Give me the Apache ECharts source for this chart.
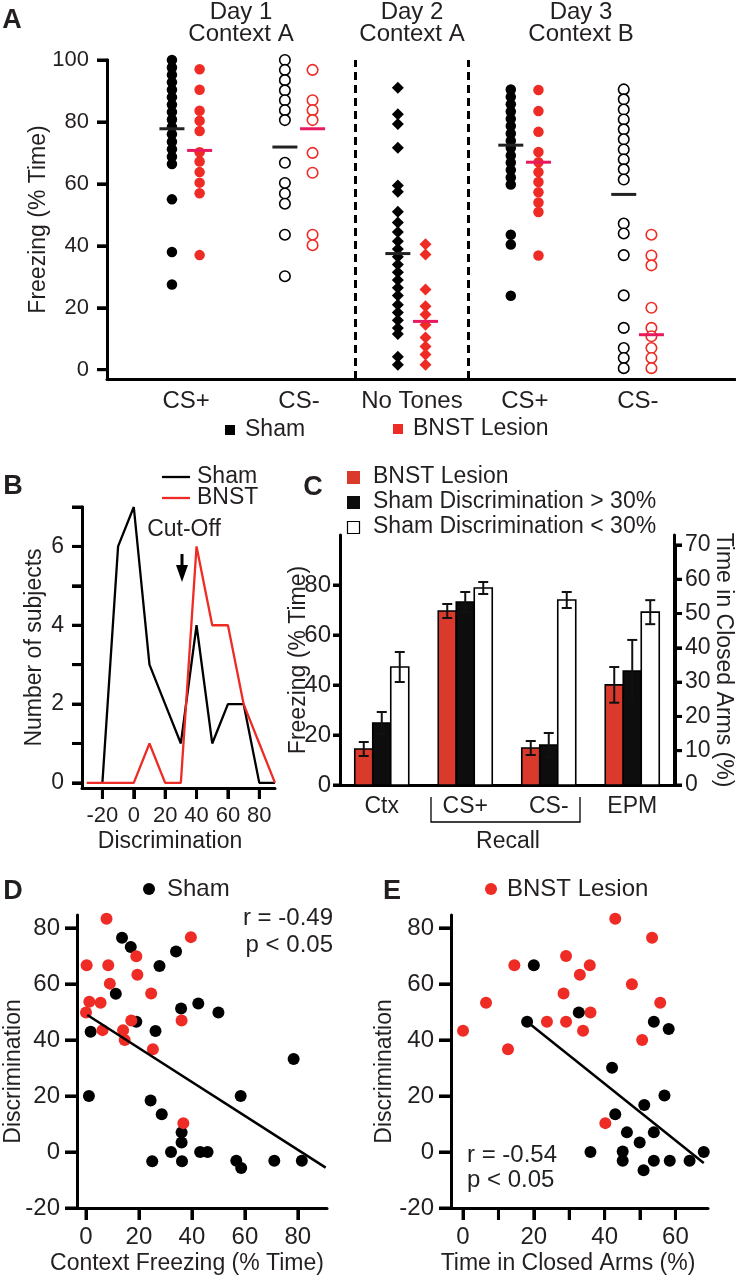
<!DOCTYPE html>
<html>
<head>
<meta charset="utf-8">
<script src="https://cdn.jsdelivr.net/npm/echarts@6/dist/echarts.min.js"></script>
<style>
html, body { margin: 0; padding: 0; background: #fff; }
#panel { width: 736px; height: 1280px; background: #fff; }
</style>
</head>
<body>
<div id="panel"></div>
<script>
var FONT = '"Liberation Sans", Arial, Helvetica, sans-serif';
var INK = '#231f20';
var RED = '#ee2b24';
var PINK = '#e8195c';
var BAR_RED = '#d93a2c';

// ---- A: freezing of each subject (% time)
var aGroups = ['CS+', 'CS-', 'No Tones', 'CS+', 'CS-'];
var aD1CSpSham = [100, 97.6, 95.2, 92.8, 90.4, 88, 85.6, 83.2, 80.8, 78.4, 76, 73.6, 71.2, 68.8, 66.4, 55, 38, 27.5];
var aD1CSpLesion = [97, 90.4, 83.6, 80.4, 77.1, 70.2, 67.2, 63.8, 60.4, 57, 37];
var aD1CSmSham = [100, 96.8, 93.5, 90.2, 87, 83.8, 80.6, 66.8, 60.3, 56.9, 53.6, 43.6, 30.2];
var aD1CSmLesion = [96.8, 87, 83.8, 80.6, 70, 63.6, 43.6, 40.2];
var aD2Sham = [91, 82.5, 79.3, 71.7, 59.5, 57.5, 51, 47.5, 44.5, 41.5, 39, 36.5, 34, 31.5, 29, 26.5, 24, 21, 18.5, 16, 13.5, 11.5, 4.2, 1.6];
var aD2Lesion = [40.5, 37.2, 25.9, 20.5, 17.8, 14.5, 10.4, 7.5, 4.9, 1.6];
var aD3CSpSham = [90.5, 88.1, 85.7, 83.4, 81, 78.7, 76.3, 73.9, 71.6, 69.2, 66.9, 64.5, 62.1, 59.8, 43.6, 40.4, 23.9];
var aD3CSpLesion = [90.3, 83.5, 76.8, 70.3, 67, 63.8, 60.6, 57.3, 54, 50.9, 36.9];
var aD3CSmSham = [90.5, 87.3, 84, 80.8, 77.6, 74.4, 71.1, 67.9, 64.7, 61.4, 47.2, 44, 37, 24, 13.5, 7, 3.8, 0.5];
var aD3CSmLesion = [43.6, 36.9, 33.7, 20, 13.5, 10.8, 7, 3.8, 0.5];
var aShamMeans = [77.8, 71.9, 37.5, 72.5, 56.6];
var aLesionMeans = [70.8, 77.8, 15.6, 67, 11.3];
var aShapes = ['dot', 'ring', 'diamond', 'dot', 'ring'];
var aYTicks = [0, 20, 40, 60, 80, 100];

// ---- B: distribution of discrimination scores
var bBins = [-30, -20, -10, 0, 10, 20, 30, 40, 50, 60, 70, 80, 90];
var bSham = ['-', 0, 6, 7, 3, 2, 1, 4, 1, 2, 2, 0, 0];
var bBnst = [0, 0, 0, 0, 1, 0, 0, 6, 4, 4, 2, 1, 0];
var bXTicks = [-20, 0, 20, 40, 60, 80];
var bYTicks = [0, 1, 2, 3, 4, 5, 6, 7];

// ---- C: group means +/- sem
var cGroups = ['Ctx', 'CS+', 'CS-', 'EPM'];
var cLesion = [14.4, 69.6, 14.8];
var cLesionErr = [2.8, 2.8, 2.8];
var cShamHigh = [24.8, 73.2, 16];
var cShamHighErr = [4.4, 4, 4.8];
var cShamLow = [47.2, 78.8, 74];
var cShamLowErr = [6, 2.4, 3.2];
var cEpm = [29.2, 33.2, 50.4];      // lesion, sham >30%, sham <30% (right axis)
var cEpmErr = [5.2, 9.1, 3.5];
var cLeftTicks = [0, 20, 40, 60, 80];
var cRightTicks = [0, 10, 20, 30, 40, 50, 60, 70];

// ---- D: discrimination vs context freezing
var dShamX = [13.6, 16.9, 34, 27.75, 11.25, 42.4, 35.9, 50, 19, 1.75, 26.25, 78.4, 1.1, 58.4, 24.4, 28.6, 36.1, 36.1, 32.1, 43.1, 45.9, 25, 36.25, 56.75, 58.6, 71.1, 81.5];
var dShamY = [76.5, 73.2, 71.6, 66.4, 56.5, 53, 51.2, 49.8, 46.5, 42.9, 43.2, 33.2, 20, 20, 18.4, 13.5, 7, 3.4, 0, 0, 0, -3.3, -3.3, -3.1, -5.7, -3.1, -3.1];
var dLesionX = [7.75, 39.6, 0.25, 8.4, 19, 19.4, 9, 24.6, 1.25, 5.5, 0, 17.1, 36.1, 6.25, 14, 14.6, 25.25, 36.75];
var dLesionY = [83.3, 76.7, 66.7, 66.7, 69.9, 63.3, 60.1, 56.6, 53.6, 53.3, 49.8, 46.9, 46.9, 43.5, 43.5, 40, 36.7, 10.3];
var dFitX = [0.5, 90.5];
var dFitY = [48.9, -5.6];
var dXTicks = [0, 20, 40, 60, 80];
var dYTicks = [-20, 0, 20, 40, 60, 80];

// ---- E: discrimination vs time in closed arms
var eLesionX = [43, 53.4, 29.1, 14.5, 35.8, 33, 47.7, 28.4, 6.5, 55.7, 36, 23.7, 29.1, 0, 33.9, 12.7, 50.6, 40.2];
var eLesionY = [83.3, 76.5, 70, 66.7, 66.7, 63.3, 59.9, 56.6, 53.3, 53.3, 49.8, 46.5, 46.5, 43.3, 43.3, 36.7, 40, 10.3];
var eShamX = [20, 32.7, 18.1, 53.9, 58.1, 42.1, 56.9, 51.2, 43, 46.3, 53.9, 49.9, 36, 45.1, 68, 45.1, 53.9, 58.4, 64, 51];
var eShamY = [66.7, 49.8, 46.5, 46.5, 43.9, 30.1, 20.2, 16.8, 13.5, 7, 7, 3.4, 0, 0.2, 0, -3.1, -3.1, -3.1, -3.1, -6.5];
var eFitX = [18.1, 68];
var eFitY = [46.5, -3.9];
var eXTicks = [0, 10, 20, 30, 40, 50, 60];
var eYTicks = [-20, 0, 20, 40, 60, 80];

function zip(xs, ys)
{
    return xs.map(function (x, i) { return [x, ys[i]]; });
}

// frames: plot areas with their axis ranges (axis lines sit on the frame edges)
var FA = { left: 107, top: 60, width: 628, height: 319, xr: [0, 5.56], yr: [-3, 100] };
var FB = { left: 82, top: 507, width: 193, height: 281, xr: [-33, 90], yr: [-0.13, 7] };
var FC = { left: 340, top: 535, width: 335, height: 250, xr: [0, 1], yr: [0, 100], yr2: [0, 72.9] };
var FD = { left: 77, top: 915, width: 250, height: 293, xr: [-3.4, 91], yr: [-20, 84.6] };
var FE = { left: 451, top: 915, width: 257, height: 293, xr: [-3.4, 69.2], yr: [-20, 84.6] };

// sub-rectangle of a frame spanning only the labelled range, so labels start on a round value
function tickRect(f, xr, yr, fy)
{
    fy = fy || f.yr;
    var kx = f.width / (f.xr[1] - f.xr[0]), ky = f.height / (fy[1] - fy[0]);
    var left = f.left + (xr[0] - f.xr[0]) * kx;
    var right = f.left + (xr[1] - f.xr[0]) * kx;
    var top = f.top + (fy[1] - yr[1]) * ky;
    var bottom = f.top + (fy[1] - yr[0]) * ky;
    return { left: left, top: top, width: right - left, height: bottom - top,
        xOff: f.top + f.height - bottom, yOff: left - f.left };
}

function gridOf(r)
{
    return { left: r.left, top: r.top, width: r.width, height: r.height };
}

// axis that only draws the frame line (and the title)
function frameAxis(grid, range, o)
{
    o = o || {};
    var a = {
        type: 'value', gridIndex: grid, min: range[0], max: range[1],
        axisLine: { show: true, onZero: false, lineStyle: { color: '#000', width: 3 } },
        axisTick: { show: false },
        axisLabel: { show: false },
        splitLine: { show: false }
    };
    if (o.position) a.position = o.position;
    if (o.name)
    {
        a.name = o.name;
        a.nameLocation = 'middle';
        a.nameGap = o.gap;
        if (o.rotate) a.nameRotate = o.rotate;
        a.nameTextStyle = { fontSize: 23, color: INK, fontFamily: FONT, padding: o.pad || 0 };
    }
    return a;
}

// axis over the labelled range: its line lies on the frame line, it adds ticks and labels
function labelAxis(grid, min, max, step, o)
{
    o = o || {};
    var a = {
        type: 'value', gridIndex: grid, min: min, max: max, interval: step,
        axisLine: { show: true, onZero: false, lineStyle: { color: '#000', width: 3 } },
        axisTick: { show: true, length: o.tick || 10, lineStyle: { color: '#000', width: 3 } },
        axisLabel: { margin: o.margin || 18, fontSize: o.size || 23, color: INK, fontFamily: FONT },
        splitLine: { show: false }
    };
    if (o.position) a.position = o.position;
    if (o.offset) a.offset = o.offset;
    if (o.fmt) a.axisLabel.formatter = o.fmt;
    return a;
}

function hidden(grid, range)
{
    return { type: 'value', gridIndex: grid, show: false, min: range[0], max: range[1], splitLine: { show: false } };
}

function txt(x, y, s, size, align, weight)
{
    return { type: 'text', x: x, y: y, style: { text: s, fontSize: size, fontFamily: FONT, fontWeight: weight || 'normal',
        fill: INK, align: align || 'center', verticalAlign: 'middle' } };
}

function renderBars(params, api)
{
    var cat = api.value(0), slot = api.value(1), v = api.value(2), e = api.value(3);
    var base = api.coord([cat, 0]);
    var top = api.coord([cat, v]);
    var hi = api.coord([cat, v + e]);
    var lo = api.coord([cat, v - e]);
    var w = 18;
    var cx = base[0] + (slot - 1) * w;
    var fills = [BAR_RED, '#0d0d0d', '#fff'];
    var es = { stroke: '#111', lineWidth: 2 };
    return {
        type: 'group',
        children: [
            { type: 'rect', shape: { x: cx - w / 2, y: top[1], width: w, height: base[1] - top[1] },
              style: { fill: fills[slot], stroke: '#000', lineWidth: 1.6 } },
            { type: 'line', shape: { x1: cx, y1: hi[1], x2: cx, y2: lo[1] }, style: es },
            { type: 'line', shape: { x1: cx - 5, y1: hi[1], x2: cx + 5, y2: hi[1] }, style: es },
            { type: 'line', shape: { x1: cx - 5, y1: lo[1], x2: cx + 5, y2: lo[1] }, style: es }
        ]
    };
}

var myChart = echarts.init(document.getElementById('panel'));

// label rectangles
var TA = tickRect(FA, FA.xr, [0, 100]);
var TB = tickRect(FB, [-20, 80], [0, 7]);
var TCL = tickRect(FC, FC.xr, [0, 80]);
var TCR = tickRect(FC, FC.xr, [0, 70], FC.yr2);
var TD = tickRect(FD, [0, 80], [-20, 80]);
var TE = tickRect(FE, [0, 60], [-20, 80]);

var grids = [gridOf(FA), gridOf(TA), gridOf(FB), gridOf(TB), gridOf(FC), gridOf(TCL), gridOf(TCR),
    gridOf(FD), gridOf(TD), gridOf(FE), gridOf(TE)];

var xAxes = [
    {   // 0: A frame with group names
        type: 'value', gridIndex: 0, min: FA.xr[0], max: FA.xr[1],
        axisLine: { show: true, onZero: false, lineStyle: { color: '#000', width: 3 } },
        axisTick: { show: false },
        axisLabel: { show: true, customValues: [0.7, 1.7, 2.7, 3.7, 4.7], margin: 10, fontSize: 24, color: INK, fontFamily: FONT,
            formatter: function (v) { return aGroups[Math.round(v - 0.7)]; } },
        splitLine: { show: false }
    },
    hidden(1, FA.xr),
    frameAxis(2, FB.xr, { name: 'Discrimination', gap: 42, pad: [0, 17, 0, 0] }),
    labelAxis(3, -20, 80, 20, { size: 22, margin: 17, tick: 11, offset: TB.xOff }),
    {   // 4: C categories
        type: 'category', gridIndex: 4, data: cGroups,
        axisLine: { show: true, lineStyle: { color: '#000', width: 3 } },
        axisTick: { show: false },
        axisLabel: { fontSize: 23, color: INK, fontFamily: FONT, margin: 10 },
        splitLine: { show: false }
    },
    hidden(5, FC.xr),
    hidden(6, FC.xr),
    frameAxis(7, FD.xr, { name: 'Context Freezing (% Time)', gap: 44, pad: [0, 30, 0, 0] }),
    labelAxis(8, 0, 80, 20, { size: 24, margin: 17, tick: 12 }),
    frameAxis(9, FE.xr, { name: 'Time in Closed Arms (%)', gap: 44, pad: [0, 23, 0, 0] }),
    labelAxis(10, 0, 60, 10, { size: 24, margin: 17, tick: 12,
        fmt: function (v) { return v % 20 === 0 ? String(v) : ''; } })
];

var yAxes = [
    frameAxis(0, FA.yr, { name: 'Freezing (% Time)', gap: 57 }),
    labelAxis(1, 0, 100, 20, { size: 22, margin: 18 }),
    frameAxis(2, FB.yr, { name: 'Number of subjects', gap: 36 }),
    labelAxis(3, 0, 7, 1, { size: 23, margin: 18, offset: TB.yOff,
        fmt: function (v) { return v % 2 === 0 ? String(v) : ''; } }),
    frameAxis(4, FC.yr, { name: 'Freezing (% Time)', gap: 30 }),
    frameAxis(4, FC.yr2, { position: 'right', name: 'Time in Closed Arms (%)', gap: 38, rotate: -90 }),
    labelAxis(5, 0, 80, 20, { size: 24, margin: 9, tick: 7 }),
    labelAxis(6, 0, 70, 10, { size: 23, margin: 10, tick: 7, position: 'right' }),
    frameAxis(7, FD.yr, { name: 'Discrimination', gap: 52, pad: [0, 20, 0, 0] }),
    labelAxis(8, -20, 80, 20, { size: 24, margin: 17, tick: 12, offset: TD.yOff }),
    frameAxis(9, FE.yr, { name: 'Discrimination', gap: 55, pad: [0, 20, 0, 0] }),
    labelAxis(10, -20, 80, 20, { size: 24, margin: 17, tick: 12, offset: TE.yOff })
];

// A columns
var aSham = [aD1CSpSham, aD1CSmSham, aD2Sham, aD3CSpSham, aD3CSmSham];
var aLesion = [aD1CSpLesion, aD1CSmLesion, aD2Lesion, aD3CSpLesion, aD3CSmLesion];
var series = [];
function aSeries(values, g, lesion)
{
    var x = g + (lesion ? 0.82 : 0.575);
    var col = lesion ? RED : '#000';
    var shape = aShapes[g];
    var s = {
        type: 'scatter', xAxisIndex: 0, yAxisIndex: 0, name: lesion ? 'BNST Lesion' : 'Sham',
        data: values.map(function (v) { return [x, v]; }),
        symbol: shape === 'diamond' ? 'diamond' : 'circle',
        symbolSize: shape === 'diamond' ? 12 : 10.5,
        itemStyle: { color: col, opacity: 1 }
    };
    if (shape === 'ring')
    {
        s.symbolSize = 10.5;
        s.itemStyle = { color: '#fff', borderColor: col, borderWidth: 1.6, opacity: 1 };
    }
    return s;
}
for (var g = 0; g < 5; g++)
{
    series.push(aSeries(aSham[g], g, false));
    series.push(aSeries(aLesion[g], g, true));
}
series.push({
    type: 'scatter', xAxisIndex: 0, yAxisIndex: 0, z: 5,
    data: aShamMeans.map(function (v, i) { return [i + 0.575, v]; }),
    symbol: 'rect', symbolSize: [25, 3], itemStyle: { color: '#222', opacity: 1 },
    markLine: {
        silent: true, symbol: 'none', label: { show: false },
        lineStyle: { color: '#000', width: 3, type: [8, 5] },
        data: [{ xAxis: 2.2 }, { xAxis: 3.2 }]
    }
});
series.push({
    type: 'scatter', xAxisIndex: 0, yAxisIndex: 0, z: 5,
    data: aLesionMeans.map(function (v, i) { return [i + 0.82, v]; }),
    symbol: 'rect', symbolSize: [25, 3], itemStyle: { color: PINK, opacity: 1 }
});

// B
series.push({ type: 'line', xAxisIndex: 2, yAxisIndex: 2, name: 'Sham', data: zip(bBins, bSham),
    showSymbol: false, lineStyle: { color: '#000', width: 2.3 }, itemStyle: { color: '#000' } });
series.push({ type: 'line', xAxisIndex: 2, yAxisIndex: 2, name: 'BNST', data: zip(bBins, bBnst),
    showSymbol: false, lineStyle: { color: RED, width: 2.3 }, itemStyle: { color: RED } });

// C
var cFreeze = [];
[cLesion, cShamHigh, cShamLow].forEach(function (arr, s)
{
    var errs = [cLesionErr, cShamHighErr, cShamLowErr][s];
    arr.forEach(function (v, c) { cFreeze.push([c, s, v, errs[c]]); });
});
var cArms = cEpm.map(function (v, s) { return [3, s, v, cEpmErr[s]]; });
series.push({ type: 'custom', xAxisIndex: 4, yAxisIndex: 4, renderItem: renderBars, data: cFreeze, encode: { x: 0, y: 2 } });
series.push({ type: 'custom', xAxisIndex: 4, yAxisIndex: 5, renderItem: renderBars, data: cArms, encode: { x: 0, y: 2 } });

// D
series.push({ type: 'scatter', xAxisIndex: 7, yAxisIndex: 8, name: 'Sham', data: zip(dShamX, dShamY),
    symbolSize: 12, itemStyle: { color: '#000', opacity: 1 } });
series.push({ type: 'scatter', xAxisIndex: 7, yAxisIndex: 8, name: 'BNST Lesion', data: zip(dLesionX, dLesionY),
    symbolSize: 12, itemStyle: { color: RED, opacity: 1 } });
series.push({ type: 'line', xAxisIndex: 7, yAxisIndex: 8, data: zip(dFitX, dFitY), showSymbol: false, z: 4,
    lineStyle: { color: '#000', width: 2.5 } });

// E
series.push({ type: 'scatter', xAxisIndex: 9, yAxisIndex: 10, name: 'BNST Lesion', data: zip(eLesionX, eLesionY),
    symbolSize: 12, itemStyle: { color: RED, opacity: 1 } });
series.push({ type: 'scatter', xAxisIndex: 9, yAxisIndex: 10, name: 'Sham', data: zip(eShamX, eShamY),
    symbolSize: 12, itemStyle: { color: '#000', opacity: 1 } });
series.push({ type: 'line', xAxisIndex: 9, yAxisIndex: 10, data: zip(eFitX, eFitY), showSymbol: false, z: 4,
    lineStyle: { color: '#000', width: 2.5 } });

// tick marks on the frame edges, from the same frame scale the grids use
function frameTicks(f, values, axis, dir, len, yr)
{
    yr = yr || f.yr;
    return values.map(function (v)
    {
        var x1, y1, x2, y2;
        if (axis === 'x')
        {
            x1 = x2 = f.left + (v - f.xr[0]) / (f.xr[1] - f.xr[0]) * f.width;
            y1 = f.top + f.height;
            y2 = y1 + len;
        }
        else
        {
            y1 = y2 = f.top + (yr[1] - v) / (yr[1] - yr[0]) * f.height;
            x1 = dir === 'right' ? f.left + f.width : f.left;
            x2 = dir === 'right' ? x1 + len : x1 - len;
        }
        return { type: 'line', z: 100, shape: { x1: x1, y1: y1, x2: x2, y2: y2 },
            style: { stroke: '#000', lineWidth: 3 } };
    });
}

var graphics = [
    txt(12, 21, 'A', 27, 'center', 'bold'),
    txt(13, 487, 'B', 27, 'center', 'bold'),
    txt(313, 488, 'C', 27, 'center', 'bold'),
    txt(13, 892, 'D', 27, 'center', 'bold'),
    txt(392, 892, 'E', 27, 'center', 'bold'),
    // A headers
    txt(241, 12, 'Day 1', 24), txt(241, 34, 'Context A', 24),
    txt(412, 12, 'Day 2', 24), txt(412, 34, 'Context A', 24),
    txt(581, 12, 'Day 3', 24), txt(581, 34, 'Context B', 24),
    // A legend
    { type: 'rect', shape: { x: 225, y: 425, width: 10, height: 10 }, style: { fill: '#000' } },
    txt(245, 430, 'Sham', 23, 'left'),
    { type: 'rect', shape: { x: 393, y: 424, width: 10, height: 10 }, style: { fill: RED } },
    txt(413, 429, 'BNST Lesion', 23, 'left'),
    // B legend + cut-off
    { type: 'line', shape: { x1: 162, y1: 477, x2: 190, y2: 477 }, style: { stroke: '#000', lineWidth: 2.3 } },
    txt(197, 477, 'Sham', 23, 'left'),
    { type: 'line', shape: { x1: 162, y1: 498, x2: 190, y2: 498 }, style: { stroke: RED, lineWidth: 2.3 } },
    txt(197, 498, 'BNST', 23, 'left'),
    txt(184, 530, 'Cut-Off', 23),
    { type: 'line', shape: { x1: 182, y1: 554, x2: 182, y2: 568 }, style: { stroke: '#000', lineWidth: 3 } },
    { type: 'polygon', shape: { points: [[176, 565], [188, 565], [182, 582]] }, style: { fill: '#000' } },
    // C legend
    { type: 'rect', shape: { x: 347, y: 471, width: 13, height: 13 }, style: { fill: BAR_RED } },
    txt(373, 477, 'BNST Lesion', 23, 'left'),
    { type: 'rect', shape: { x: 347, y: 496, width: 13, height: 13 }, style: { fill: '#0d0d0d' } },
    txt(373, 502, 'Sham Discrimination > 30%', 23, 'left'),
    { type: 'rect', shape: { x: 347.5, y: 521.5, width: 12, height: 12 }, style: { fill: '#fff', stroke: '#000', lineWidth: 1.2 } },
    txt(373, 527, 'Sham Discrimination < 30%', 23, 'left'),
    // C recall bracket
    { type: 'polyline', shape: { points: [[431, 797], [431, 822], [580, 822], [580, 797]] },
      style: { stroke: '#000', fill: null, lineWidth: 1.3 } },
    txt(508, 842, 'Recall', 23),
    // D legend + stats
    { type: 'circle', shape: { cx: 149, cy: 889, r: 6 }, style: { fill: '#000' } },
    txt(167, 889, 'Sham', 24, 'left'),
    txt(333, 918, 'r = -0.49', 24, 'right'),
    txt(333, 945, 'p < 0.05', 24, 'right'),
    // E legend + stats
    { type: 'circle', shape: { cx: 491, cy: 889, r: 6 }, style: { fill: RED } },
    txt(507, 889, 'BNST Lesion', 24, 'left'),
    txt(467, 1155, 'r = -0.54', 24, 'left'),
    txt(467, 1180, 'p < 0.05', 24, 'left')
].concat(
    frameTicks(FA, aYTicks, 'y', 'left', 10),
    frameTicks(FB, bYTicks, 'y', 'left', 10),
    frameTicks(FB, bXTicks, 'x', 'down', 11),
    frameTicks(FC, cLeftTicks, 'y', 'left', 7),
    frameTicks(FC, cRightTicks, 'y', 'right', 7, FC.yr2),
    frameTicks(FD, dYTicks, 'y', 'left', 12),
    frameTicks(FD, dXTicks, 'x', 'down', 12),
    frameTicks(FE, eYTicks, 'y', 'left', 12),
    frameTicks(FE, eXTicks, 'x', 'down', 12)
);

myChart.setOption({
    animation: false,
    grid: grids,
    xAxis: xAxes,
    yAxis: yAxes,
    series: series,
    graphic: graphics
});
</script>
</body>
</html>
